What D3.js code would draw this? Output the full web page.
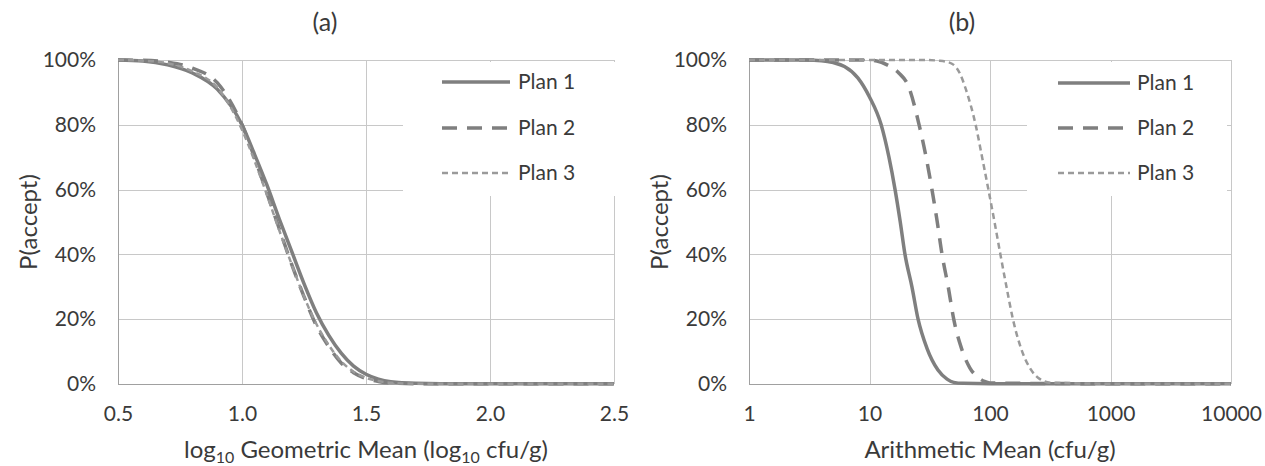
<!DOCTYPE html>
<html>
<head>
<meta charset="utf-8">
<script src="https://cdn.jsdelivr.net/npm/d3@7"></script>
<style>
  html, body { margin: 0; padding: 0; background: #fff; }
  svg { display: block; }
  text { font-family: Lato, "Open Sans", sans-serif; fill: #3a3a3a; }
</style>
</head>
<body>
<svg id="chart" width="1265" height="466"></svg>
<script>
// ---------------- DATA ----------------
const planNames = ["Plan 1", "Plan 2", "Plan 3"];
const yTicks = [0, 0.2, 0.4, 0.6, 0.8, 1.0];

// Panel (a): log10 geometric mean
const xA = [0.5, 0.6, 0.7, 0.8, 0.9, 1.0, 1.05, 1.1, 1.15, 1.2, 1.25, 1.3, 1.35, 1.4, 1.45, 1.5, 1.55, 1.6, 1.7, 1.8, 2.0, 2.5];
const aPlan1 = [1.0, 0.997, 0.985, 0.96, 0.91, 0.80, 0.71, 0.615, 0.51, 0.41, 0.31, 0.22, 0.15, 0.095, 0.055, 0.03, 0.015, 0.007, 0.002, 0.001, 0.001, 0.001];
const aPlan2 = [1.0, 0.999, 0.993, 0.975, 0.93, 0.80, 0.70, 0.59, 0.48, 0.37, 0.27, 0.18, 0.115, 0.065, 0.035, 0.017, 0.008, 0.003, 0.001, 0.001, 0.001, 0.001];
const aPlan3 = [1.0, 0.998, 0.99, 0.965, 0.915, 0.785, 0.69, 0.585, 0.475, 0.37, 0.27, 0.185, 0.12, 0.07, 0.038, 0.019, 0.009, 0.004, 0.001, 0.001, 0.001, 0.001];
const xTicksA = [0.5, 1.0, 1.5, 2.0, 2.5];

// Panel (b): arithmetic mean (cfu/g)
const xB1 = [1, 2, 3, 4, 5, 6.2, 8, 10, 12.5, 14.5, 16.3, 18, 19.7, 22.5, 25.3, 30, 37, 44, 50, 60, 100, 1000, 10000];
const bPlan1 = [1.0, 1.0, 1.0, 0.998, 0.992, 0.98, 0.945, 0.886, 0.80, 0.70, 0.60, 0.50, 0.40, 0.30, 0.20, 0.11, 0.043, 0.015, 0.005, 0.002, 0.001, 0.001, 0.001];
const xB2 = [1, 5, 9, 11.5, 14, 17.5, 21, 25.8, 29.5, 33, 36.5, 40, 45, 50, 58, 68, 80, 90, 100, 1000, 10000];
const bPlan2 = [1.0, 1.0, 1.0, 0.997, 0.985, 0.96, 0.92, 0.80, 0.70, 0.60, 0.50, 0.40, 0.30, 0.20, 0.11, 0.05, 0.02, 0.008, 0.003, 0.001, 0.001];
const xB3 = [1, 10, 30, 37, 43, 50, 56, 63, 76, 86, 97, 109, 122, 137, 155, 185, 218, 260, 320, 1000, 10000];
const bPlan3 = [1.0, 1.0, 1.0, 0.998, 0.995, 0.985, 0.96, 0.91, 0.80, 0.70, 0.60, 0.50, 0.40, 0.30, 0.20, 0.10, 0.045, 0.015, 0.004, 0.001, 0.001];
const xTicksB = [1, 10, 100, 1000, 10000];

// ---------------- DRAWING ----------------
const svg = d3.select("#chart");
const lineColor = "#7f7f7f";
const styles = [
  { stroke: lineColor, width: 3.5, dash: null },
  { stroke: lineColor, width: 3.5, dash: "15,10" },
  { stroke: "#9a9a9a", width: 2.5, dash: "6,4" }
];

function panel(opts) {
  const g = svg.append("g");
  const x = opts.x, y = opts.y;
  const [x0, x1] = x.range();
  const [y0, y1] = y.range();

  // horizontal gridlines
  g.selectAll(".hg").data(yTicks).join("line")
    .attr("x1", x0).attr("x2", x1)
    .attr("y1", d => Math.round(y(d)) + 0.5).attr("y2", d => Math.round(y(d)) + 0.5)
    .attr("stroke", d => d === 0 ? "#a0a0a0" : "#c8c8c8").attr("stroke-width", 1);
  // vertical gridlines
  g.selectAll(".vg").data(opts.xTicks).join("line")
    .attr("x1", d => Math.round(x(d)) + 0.5).attr("x2", d => Math.round(x(d)) + 0.5)
    .attr("y1", y1).attr("y2", y0)
    .attr("stroke", (d, i) => i === 0 ? "#a0a0a0" : "#c8c8c8").attr("stroke-width", 1);

  // curves
  const line = d3.line().x(d => x(d[0])).y(d => y(d[1])).curve(d3.curveMonotoneX);
  opts.series.forEach((s, i) => {
    const pts = s.xs.map((v, k) => [v, s.ys[k]]);
    g.append("path").attr("d", line(pts))
      .attr("fill", "none")
      .attr("stroke", styles[i].stroke)
      .attr("stroke-width", styles[i].width)
      .attr("stroke-dasharray", styles[i].dash)
      .attr("stroke-linejoin", "round");
  });

  // y axis labels
  const ya = d3.axisLeft(y).tickValues(yTicks).tickFormat(d3.format(".0%")).tickSize(0).tickPadding(22);
  const yg = g.append("g").attr("transform", `translate(${x0},0)`).call(ya);
  yg.select(".domain").remove();
  yg.selectAll("text").style("font-size", "21px").attr("fill", "#3a3a3a");

  // x axis labels
  const xa = d3.axisBottom(x).tickValues(opts.xTicks).tickFormat(opts.xFormat).tickSize(0).tickPadding(22);
  const xg = g.append("g").attr("transform", `translate(0,${y0})`).call(xa);
  xg.select(".domain").remove();
  xg.selectAll("text").style("font-size", "21px").attr("fill", "#3a3a3a");

  // panel title
  g.append("text").attr("x", opts.titleX).attr("y", 31).attr("text-anchor", "middle")
    .style("font-size", "25px").text(opts.title);

  // y title
  g.append("text").attr("transform", `translate(${opts.yTitleX},${(y0 + y1) / 2}) rotate(-90)`)
    .attr("text-anchor", "middle").style("font-size", "24px").text("P(accept)");

  // x title
  const xt = g.append("text").attr("x", (x0 + x1) / 2).attr("y", 458).attr("text-anchor", "middle")
    .style("font-size", "24px");
  opts.xTitle(xt);

  // legend
  const lg = opts.legend;
  g.append("rect").attr("x", lg.boxX).attr("y", y1 + 2).attr("width", lg.boxW).attr("height", 134).attr("fill", "#fff");
  planNames.forEach((name, i) => {
    const ly = lg.rows[i];
    g.append("line").attr("x1", lg.lx0).attr("x2", lg.lx1).attr("y1", ly).attr("y2", ly)
      .attr("stroke", styles[i].stroke).attr("stroke-width", styles[i].width)
      .attr("stroke-dasharray", styles[i].dash);
    g.append("text").attr("x", lg.tx).attr("y", ly).attr("dy", "0.35em")
      .style("font-size", "21px").text(name);
  });
}

const yScale = d3.scaleLinear().domain([0, 1]).range([384, 60]);

panel({
  x: d3.scaleLinear().domain([0.5, 2.5]).range([118, 614]),
  y: yScale,
  xTicks: xTicksA,
  xFormat: d3.format(".1f"),
  series: [{ xs: xA, ys: aPlan1 }, { xs: xA, ys: aPlan2 }, { xs: xA, ys: aPlan3 }],
  title: "(a)", titleX: 325, yTitleX: 37,
  xTitle: t => {
    t.append("tspan").text("log");
    t.append("tspan").attr("dy", 5).style("font-size", "16px").text("10");
    t.append("tspan").attr("dy", -5).text(" Geometric Mean (log");
    t.append("tspan").attr("dy", 5).style("font-size", "16px").text("10");
    t.append("tspan").attr("dy", -5).text(" cfu/g)");
  },
  legend: { boxX: 403, boxW: 214, rows: [82, 128, 173], lx0: 442, lx1: 510, tx: 518 }
});

panel({
  x: d3.scaleLog().domain([1, 10000]).range([749, 1231]),
  y: yScale,
  xTicks: xTicksB,
  xFormat: d3.format("d"),
  series: [{ xs: xB1, ys: bPlan1 }, { xs: xB2, ys: bPlan2 }, { xs: xB3, ys: bPlan3 }],
  title: "(b)", titleX: 962, yTitleX: 668,
  xTitle: t => { t.text("Arithmetic Mean (cfu/g)"); },
  legend: { boxX: 1027, boxW: 200, rows: [83, 128, 173], lx0: 1058, lx1: 1130, tx: 1137 }
});
</script>
</body>
</html>
